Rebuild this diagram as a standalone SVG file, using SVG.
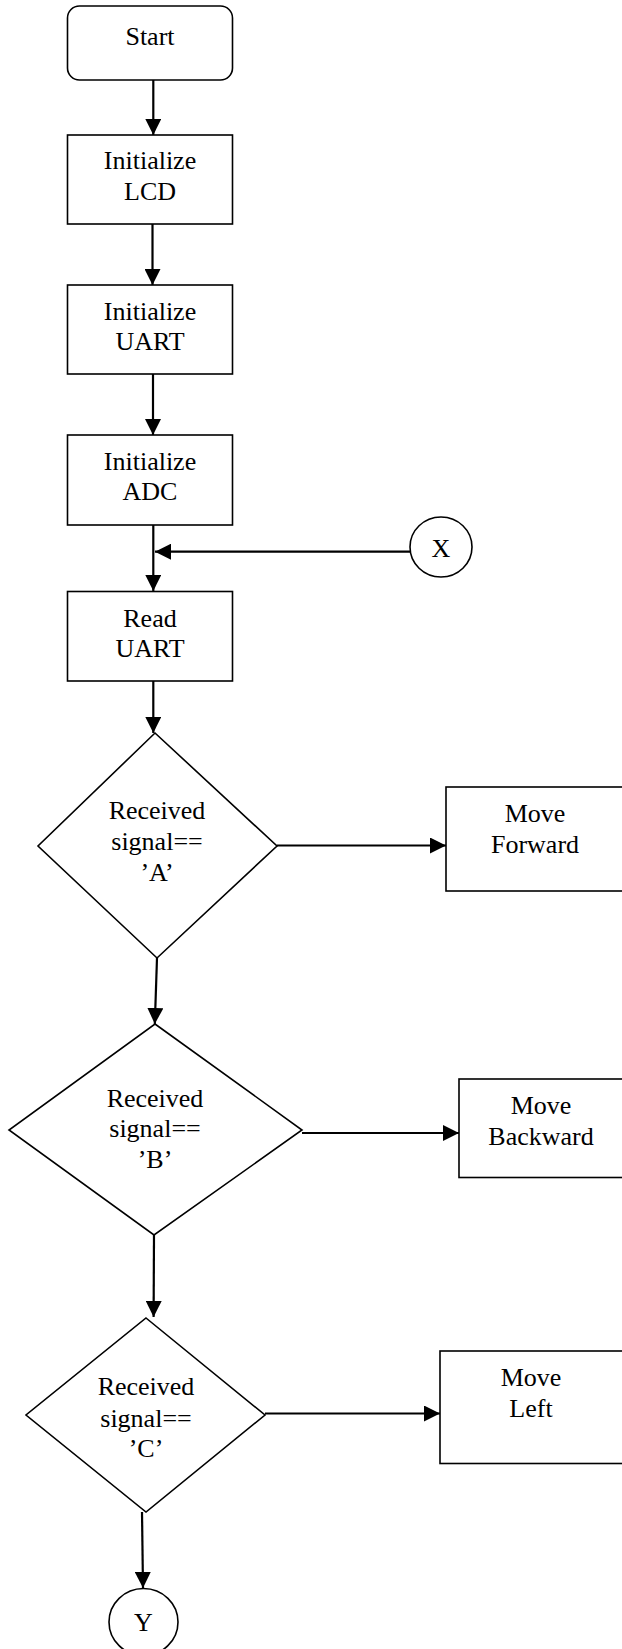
<svg xmlns="http://www.w3.org/2000/svg" width="622" height="1649" viewBox="0 0 622 1649">
<style>
.shape{fill:#fff;stroke:#000;stroke-width:1.6}
.lbl{font-family:"Liberation Serif","Times New Roman",serif;font-size:26px;fill:#000;text-anchor:middle}
.conn{fill:none;stroke:#000;stroke-width:2.2}
</style>
<defs>
<marker id="arr" markerUnits="userSpaceOnUse" markerWidth="16" markerHeight="16" viewBox="0 0 15 15" refX="15" refY="7.5" orient="auto">
<path d="M0,0 L15,7.5 L0,15 Z" fill="#000"/>
</marker>
</defs>
<rect width="622" height="1649" fill="#fff"/>
<g id="start"><rect class="shape" x="67.5" y="6" width="165" height="74" rx="12" ry="12"/><text class="lbl" x="150" y="45">Start</text></g>
<g id="initLCD"><rect class="shape" x="67.5" y="135" width="165" height="89"/><text class="lbl" x="150" y="169">Initialize</text><text class="lbl" x="150" y="200">LCD</text></g>
<g id="initUART"><rect class="shape" x="67.5" y="285" width="165" height="89"/><text class="lbl" x="150" y="320">Initialize</text><text class="lbl" x="150" y="350">UART</text></g>
<g id="initADC"><rect class="shape" x="67.5" y="435" width="165" height="90"/><text class="lbl" x="150" y="470">Initialize</text><text class="lbl" x="150" y="500">ADC</text></g>
<g id="connX"><ellipse class="shape" cx="441" cy="547" rx="31" ry="30"/><text class="lbl" x="441" y="557">X</text></g>
<g id="readUART"><rect class="shape" x="67.5" y="591.5" width="165" height="89.5"/><text class="lbl" x="150" y="627">Read</text><text class="lbl" x="150" y="657">UART</text></g>
<g id="decA"><polygon class="shape" points="155,733 277,846 157,958 38,846"/><text class="lbl" x="157" y="819">Received</text><text class="lbl" x="157" y="850">signal==</text><text class="lbl" x="157" y="881">’A’</text></g>
<g id="fwd"><rect class="shape" x="446" y="787" width="200" height="104"/><text class="lbl" x="535" y="822">Move</text><text class="lbl" x="535" y="853">Forward</text></g>
<g id="decB"><polygon class="shape" points="155,1024 302,1130 154,1235 9,1130"/><text class="lbl" x="155" y="1107">Received</text><text class="lbl" x="155" y="1137">signal==</text><text class="lbl" x="155" y="1168">’B’</text></g>
<g id="bwd"><rect class="shape" x="459" y="1079" width="200" height="98.5"/><text class="lbl" x="541" y="1114">Move</text><text class="lbl" x="541" y="1145">Backward</text></g>
<g id="decC"><polygon class="shape" points="146,1318 265,1415 146,1512 26,1415"/><text class="lbl" x="146" y="1395">Received</text><text class="lbl" x="146" y="1427">signal==</text><text class="lbl" x="146" y="1457">’C’</text></g>
<g id="left"><rect class="shape" x="440" y="1351" width="200" height="112.5"/><text class="lbl" x="531" y="1386">Move</text><text class="lbl" x="531" y="1417">Left</text></g>
<g id="connY"><ellipse class="shape" cx="143.5" cy="1622" rx="34.5" ry="33.5"/><text class="lbl" x="143.5" y="1631">Y</text></g>
<g id="connectors">
<line class="conn" x1="153.3" y1="80" x2="153.3" y2="135" marker-end="url(#arr)"/>
<line class="conn" x1="152.5" y1="224" x2="152.5" y2="285" marker-end="url(#arr)"/>
<line class="conn" x1="153" y1="374" x2="153" y2="435" marker-end="url(#arr)"/>
<line class="conn" x1="153.3" y1="525" x2="153.3" y2="591" marker-end="url(#arr)"/>
<line class="conn" x1="410" y1="551.7" x2="155" y2="551.7" marker-end="url(#arr)"/>
<line class="conn" x1="153.3" y1="681" x2="153.3" y2="733" marker-end="url(#arr)"/>
<line class="conn" x1="277" y1="845.5" x2="446" y2="845.5" marker-end="url(#arr)"/>
<line class="conn" x1="157" y1="958" x2="154.8" y2="1024" marker-end="url(#arr)"/>
<line class="conn" x1="302" y1="1133" x2="459" y2="1133" marker-end="url(#arr)"/>
<line class="conn" x1="154" y1="1235" x2="153.6" y2="1317" marker-end="url(#arr)"/>
<line class="conn" x1="265" y1="1413.5" x2="440" y2="1413.5" marker-end="url(#arr)"/>
<line class="conn" x1="142" y1="1512" x2="143" y2="1588" marker-end="url(#arr)"/>
</g>
</svg>
